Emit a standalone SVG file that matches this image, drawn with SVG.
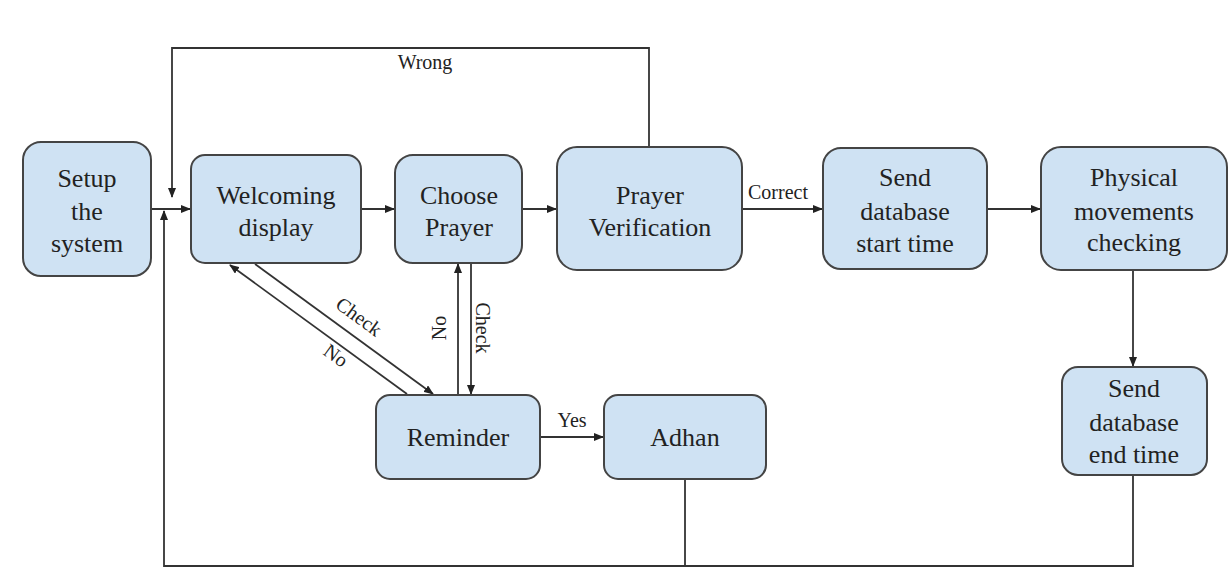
<svg xmlns="http://www.w3.org/2000/svg" width="1229" height="571" viewBox="0 0 1229 571">
<style>
.node{fill:#cfe2f3;stroke:#444;stroke-width:2}
.t{font-family:"Liberation Serif",serif;font-size:26px;fill:#222;text-anchor:middle}
.lbl{font-family:"Liberation Serif",serif;font-size:20px;fill:#222;text-anchor:middle}
.c{fill:none;stroke:#333;stroke-width:1.8}
</style>
<defs>
<marker id="ah" markerWidth="10" markerHeight="8" refX="9" refY="4" orient="auto" markerUnits="userSpaceOnUse">
<path d="M0,0 L10,4 L0,8 Z" fill="#222"/>
</marker>
</defs>
<rect width="1229" height="571" fill="#fff"/>
<g id="connectors">
<line class="c" x1="151" y1="209" x2="190" y2="209" marker-end="url(#ah)"/>
<line class="c" x1="361" y1="209" x2="394" y2="209" marker-end="url(#ah)"/>
<line class="c" x1="522" y1="209" x2="556" y2="209" marker-end="url(#ah)"/>
<line class="c" x1="742" y1="209" x2="822" y2="209" marker-end="url(#ah)"/>
<line class="c" x1="987" y1="209" x2="1040" y2="209" marker-end="url(#ah)"/>
<line class="c" x1="1133" y1="270" x2="1133" y2="366" marker-end="url(#ah)"/>
<polyline class="c" points="649,147 649,48 172,48 172,197" marker-end="url(#ah)"/>
<text class="lbl" x="425" y="69">Wrong</text>
<text class="lbl" x="778" y="199">Correct</text>
<polyline class="c" points="1133,475 1133,566 164,566 164,211" marker-end="url(#ah)"/>
<line class="c" x1="685" y1="479" x2="685" y2="566"/>
<line class="c" x1="540" y1="437" x2="603" y2="437" marker-end="url(#ah)"/>
<text class="lbl" x="572" y="427">Yes</text>
<line class="c" x1="407" y1="394" x2="230" y2="265" marker-end="url(#ah)"/>
<line class="c" x1="255" y1="264" x2="433" y2="394" marker-end="url(#ah)"/>
<text class="lbl" transform="translate(355,322) rotate(36)" y="0">Check</text>
<text class="lbl" transform="translate(332,361) rotate(36)" y="0">No</text>
<line class="c" x1="458" y1="394" x2="458" y2="264" marker-end="url(#ah)"/>
<line class="c" x1="471" y1="264" x2="471" y2="394" marker-end="url(#ah)"/>
<text class="lbl" transform="translate(446,328) rotate(-90)">No</text>
<text class="lbl" transform="translate(476,328) rotate(90)">Check</text>
</g>
<g id="n-setup">
<rect class="node" x="23" y="142" width="128" height="134" rx="18"/>
<text class="t" x="87" y="187">Setup</text>
<text class="t" x="87" y="220">the</text>
<text class="t" x="87" y="252">system</text>
</g>
<g id="n-welcome">
<rect class="node" x="191" y="155" width="170" height="108" rx="14"/>
<text class="t" x="276" y="204">Welcoming</text>
<text class="t" x="276" y="236">display</text>
</g>
<g id="n-choose">
<rect class="node" x="395" y="155" width="127" height="108" rx="18"/>
<text class="t" x="459" y="204">Choose</text>
<text class="t" x="459" y="236">Prayer</text>
</g>
<g id="n-verify">
<rect class="node" x="557" y="147" width="185" height="123" rx="20"/>
<text class="t" x="650" y="204">Prayer</text>
<text class="t" x="650" y="236">Verification</text>
</g>
<g id="n-start">
<rect class="node" x="823" y="148" width="164" height="121" rx="18"/>
<text class="t" x="905" y="186">Send</text>
<text class="t" x="905" y="220">database</text>
<text class="t" x="905" y="252">start time</text>
</g>
<g id="n-physical">
<rect class="node" x="1041" y="147" width="186" height="123" rx="20"/>
<text class="t" x="1134" y="186">Physical</text>
<text class="t" x="1134" y="220">movements</text>
<text class="t" x="1134" y="251">checking</text>
</g>
<g id="n-end">
<rect class="node" x="1062" y="367" width="145" height="108" rx="16"/>
<text class="t" x="1134" y="397">Send</text>
<text class="t" x="1134" y="431">database</text>
<text class="t" x="1134" y="463">end time</text>
</g>
<g id="n-reminder">
<rect class="node" x="376" y="395" width="164" height="84" rx="14"/>
<text class="t" x="458" y="446">Reminder</text>
</g>
<g id="n-adhan">
<rect class="node" x="604" y="395" width="162" height="84" rx="14"/>
<text class="t" x="685" y="446">Adhan</text>
</g>
</svg>
